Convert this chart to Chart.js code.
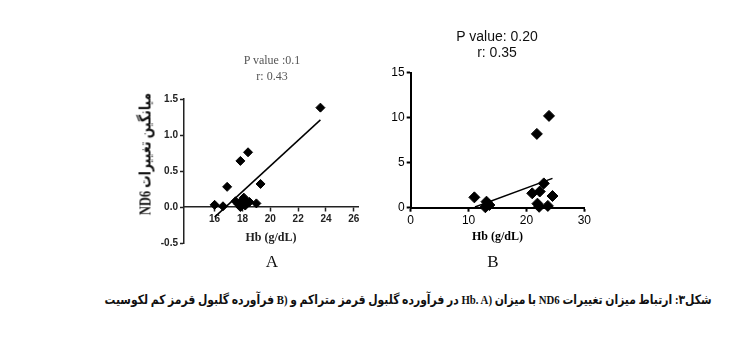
<!DOCTYPE html>
<html>
<head>
<meta charset="utf-8">
<script src="https://cdn.jsdelivr.net/npm/chart.js@4.4.1/dist/chart.umd.min.js"></script>
<style>
    html, body { margin: 0; padding: 0; background: #fff; }
    #page { position: relative; width: 735px; height: 339px; overflow: hidden; background: #fff; }
    canvas { position: absolute; }
    .txt { position: absolute; white-space: nowrap; transform: translate(-50%, -50%); }
    #statsA { left: 272px; top: 68px; font: 12px 'Liberation Serif', serif; color: #555; text-align: center; line-height: 16px; }
    #statsB { left: 497px; top: 44px; font: 14px 'Liberation Sans', Arial, sans-serif; color: #111; text-align: center; line-height: 16px; }
    #yTitleA { left: 145px; top: 154px; transform: translate(-50%, -50%) rotate(-90deg); font: bold 16px 'Liberation Serif', 'DejaVu Sans', serif; color: #111; direction: rtl; }
    .panel { font: 17px 'Liberation Serif', serif; color: #111; }
    #caption { position: absolute; right: 23px; top: 292px; font: bold 13px 'Liberation Serif', 'DejaVu Sans', serif; color: #111; direction: rtl; white-space: nowrap; transform-origin: right center; }
</style>
</head>
<body>
<div id="page">
    <canvas id="chartA" width="270" height="220" style="left:100px; top:40px;"></canvas>
    <canvas id="chartB" width="230" height="240" style="left:380px; top:20px;"></canvas>

    <div id="statsA" class="txt">P value :0.1<br>r: 0.43</div>
    <div id="statsB" class="txt">P value: 0.20<br>r: 0.35</div>
    <div id="yTitleA" class="txt">میانگین تغییرات ND6</div>
    <div class="txt panel" style="left:272px; top:262px;">A</div>
    <div class="txt panel" style="left:493px; top:262px;">B</div>
    <div id="caption">شکل۳: ارتباط میزان تغییرات ND6 با میزان Hb. A)&lrm; در فرآورده گلبول قرمز متراکم و B)&lrm; فرآورده گلبول قرمز کم لکوسیت</div>
</div>

<script>
// ---------------- Data ----------------
// A: packed red cells
const hbA = [23.6, 18.4, 17.85, 16.9, 19.3, 16.0, 16.6, 17.5, 17.7, 17.85, 18.0, 18.1, 18.2, 18.35, 18.5, 19.0];
const nd6A = [1.38, 0.76, 0.64, 0.28, 0.32, 0.03, 0.01, 0.08, 0.04, 0.0, 0.1, 0.13, 0.02, 0.06, 0.07, 0.05];
const fitXA = [16.0, 23.6];
const fitYA = [-0.14, 1.21];
const xTicksA = [16, 18, 20, 22, 24, 26];
const yTicksA = [-0.5, 0, 0.5, 1.0, 1.5];

// B: leukoreduced red cells
const hbB = [23.9, 21.8, 23.0, 21.0, 22.3, 24.5, 21.9, 22.2, 23.7, 11.0, 13.1, 13.6, 12.9];
const nd6B = [10.2, 8.2, 2.7, 1.6, 1.8, 1.3, 0.45, 0.1, 0.2, 1.15, 0.67, 0.3, 0.05];
const fitXB = [11.1, 24.5];
const fitYB = [0.07, 3.26];
const xTicksB = [0, 10, 20, 30];
const yTicksB = [0, 5, 10, 15];


document.addEventListener("DOMContentLoaded", () => {
    fitTexts();
    drawChartA();
    drawChartB();
});


// ---------------- Text widths ----------------
// the Persian glyphs come from a wider fallback font, squeeze to the original length
function fitTexts() {

    const caption = document.getElementById("caption");
    const cw = caption.getBoundingClientRect().width;
    caption.style.transform = `scaleX(${607 / cw})`;

    const yTitle = document.getElementById("yTitleA");
    const tw = yTitle.offsetWidth;
    yTitle.style.transform = `translate(-50%, -50%) rotate(-90deg) scaleX(${122 / tw})`;
}


// ---------------- Helpers ----------------
function toPoints(xs, ys) {
    return xs.map((x, i) => ({x: x, y: ys[i]}));
}

function fixTicks(values) {
    return function(scale) {
        scale.ticks = values.map(v => ({value: v}));
    };
}

function datasetsFor(xs, ys, fx, fy, radius) {
    return [
        {
            data: toPoints(xs, ys),
            pointStyle: "rectRot",
            pointRadius: radius,
            backgroundColor: "#000",
            borderColor: "#000",
            borderWidth: 1,
            showLine: false,
            clip: false
        },
        {
            data: toPoints(fx, fy),
            showLine: true,
            borderColor: "#000",
            borderWidth: 1.5,
            pointRadius: 0,
            clip: false
        }
    ];
}


// ---------------- Chart A ----------------
function drawChartA() {

    const ctx = document.getElementById("chartA").getContext("2d");
    const axisColor = "#222";
    const tickFont = {family: "'Liberation Sans Narrow', 'Liberation Sans', Arial", size: 10, weight: "bold"};

    new Chart(ctx, {
        type: "scatter",
        data: {
            datasets: datasetsFor(hbA, nd6A, fitXA, fitYA, 4.5)
        },
        options: {
            responsive: false,
            animation: false,
            layout: {
                padding: {left: 31, top: 59, right: 12, bottom: 17}
            },
            scales: {
                x: {
                    type: "linear",
                    position: {y: 0},
                    min: 13.8,
                    max: 26.3,
                    afterBuildTicks: fixTicks(xTicksA),
                    grid: {drawOnChartArea: false, tickLength: 4, tickColor: axisColor, tickWidth: 1.5},
                    border: {color: axisColor, width: 1.5},
                    ticks: {font: tickFont, color: axisColor, padding: 2, maxRotation: 0},
                    title: {
                        display: true,
                        text: "Hb (g/dL)",
                        color: axisColor,
                        font: {family: "'Liberation Serif', serif", size: 12, weight: "bold"},
                        padding: {top: 4, bottom: 4}
                    }
                },
                y: {
                    min: -0.5,
                    max: 1.5,
                    afterBuildTicks: fixTicks(yTicksA),
                    afterFit: function(scale) { scale.width = 53; },
                    grid: {drawOnChartArea: false, tickLength: 4, tickColor: axisColor, tickWidth: 1.5},
                    border: {color: axisColor, width: 1.5},
                    ticks: {
                        font: tickFont,
                        color: axisColor,
                        padding: 2,
                        callback: v => v.toFixed(1)
                    }
                }
            },
            plugins: {
                legend: {display: false},
                tooltip: {enabled: false}
            }
        }
    });
}


// ---------------- Chart B ----------------
function drawChartB() {

    const ctx = document.getElementById("chartB").getContext("2d");
    const axisColor = "#000";
    const tickFont = {family: "'Liberation Sans', Arial", size: 12};

    new Chart(ctx, {
        type: "scatter",
        data: {
            datasets: datasetsFor(hbB, nd6B, fitXB, fitYB, 5.5)
        },
        options: {
            responsive: false,
            animation: false,
            layout: {
                padding: {left: 0, top: 52.7, right: 25.7, bottom: 12.3}
            },
            scales: {
                x: {
                    type: "linear",
                    position: "bottom",
                    min: 0,
                    max: 30,
                    afterBuildTicks: fixTicks(xTicksB),
                    afterFit: function(scale) { scale.height = 40; },
                    grid: {drawOnChartArea: false, tickLength: 4, tickColor: axisColor, tickWidth: 2},
                    border: {color: axisColor, width: 2},
                    ticks: {font: tickFont, color: axisColor, padding: 2, maxRotation: 0},
                    title: {
                        display: true,
                        text: "Hb (g/dL)",
                        color: axisColor,
                        font: {family: "'Liberation Serif', serif", size: 12, weight: "bold"},
                        padding: {top: 4, bottom: 4}
                    }
                },
                y: {
                    min: 0,
                    max: 15,
                    afterBuildTicks: fixTicks(yTicksB),
                    afterFit: function(scale) { scale.width = 30.7; },
                    grid: {drawOnChartArea: false, tickLength: 4, tickColor: axisColor, tickWidth: 2},
                    border: {color: axisColor, width: 2},
                    ticks: {font: tickFont, color: axisColor, padding: 2}
                }
            },
            plugins: {
                legend: {display: false},
                tooltip: {enabled: false}
            }
        }
    });
}
</script>
</body>
</html>
